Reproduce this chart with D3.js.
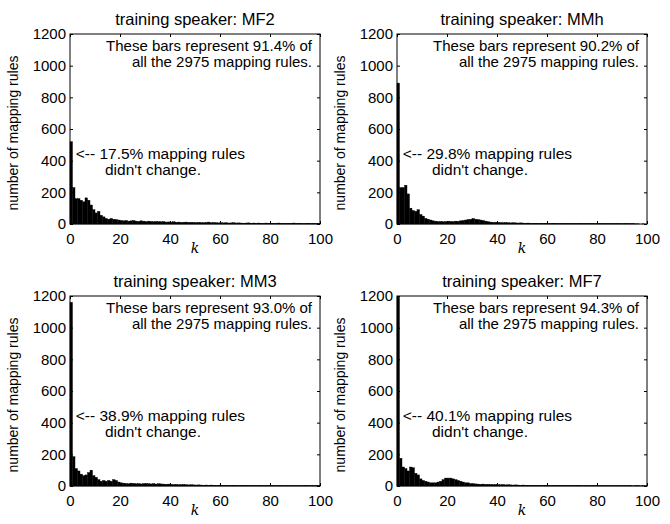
<!DOCTYPE html>
<html>
<head>
<meta charset="utf-8">
<script src="https://cdn.jsdelivr.net/npm/d3@7"></script>
<style>
body { margin: 0; background: white; }
text { font-family: "Liberation Sans", Arial, sans-serif; fill: black; }
</style>
</head>
<body>
<script>
// counts of mapping rules for each k (k = 0..99)
var mf2 = [520,230,160,160,150,140,165,150,120,90,
	70,80,55,45,35,30,35,30,28,25,
	22,20,22,18,20,22,18,16,20,18,
	15,18,16,14,16,15,14,15,12,13,
	12,14,11,12,10,11,12,10,11,10,
	9,10,9,8,10,12,8,9,8,7,
	8,7,8,6,7,8,6,7,6,5,
	6,7,5,6,5,6,5,4,6,5,
	5,4,5,6,4,5,4,5,4,6,
	4,5,4,3,4,5,3,4,3,5]

var mmh = [890,230,230,245,190,100,85,80,90,60,
	50,35,30,25,20,18,15,16,14,15,
	18,16,15,18,17,20,22,25,28,30,
	35,30,28,25,22,18,14,12,10,11,
	10,9,8,9,8,7,8,7,6,7,
	6,5,6,5,4,5,4,5,4,5,
	4,4,5,4,3,4,4,3,4,3,
	4,3,3,4,3,3,4,3,3,2,
	3,3,2,3,3,2,3,2,3,2,
	2,3,2,2,3,1,1,0,1,0]

var mm3 = [1160,185,110,95,75,65,70,85,100,65,
	55,40,30,35,30,35,30,40,35,25,
	20,18,15,14,18,16,14,15,13,15,
	16,14,13,15,12,14,13,12,11,12,
	10,9,10,8,9,10,8,7,8,7,
	6,7,6,5,6,5,6,5,4,5,
	5,4,5,4,4,5,4,3,4,4,
	3,4,3,4,3,3,4,3,3,4,
	3,3,2,3,3,2,3,3,2,3,
	2,3,2,3,4,2,3,2,3,2]

var mf7 = [1193,175,120,110,95,120,115,80,70,45,
	35,30,25,20,20,20,25,30,40,50,
	50,50,45,40,35,30,25,20,20,15,
	15,13,12,11,12,10,11,10,9,10,
	9,8,9,7,8,7,6,7,6,5,
	6,5,5,4,5,4,5,4,4,5,
	4,3,4,4,3,4,3,3,4,3,
	3,3,4,3,2,3,3,2,3,3,
	2,3,2,2,3,2,2,3,2,2,
	2,2,3,2,1,2,2,1,2,1]

var speakers = ["MF2", "MMh", "MM3", "MF7"]
var seriesList = [mf2, mmh, mm3, mf7]
var coveredPct = ["91.4", "90.2", "93.0", "94.3"]
var unchangedPct = ["17.5", "29.8", "38.9", "40.1"]
var totalRules = 2975
var xTicks = [0, 20, 40, 60, 80, 100]
var yTicks = [0, 200, 400, 600, 800, 1000, 1200]

var svg = d3.select("body").append("svg")
	.attr("width", 670).attr("height", 524)

var plotW = 250
var plotH = 190
var origins = [[70, 34], [397, 34], [70, 296], [397, 296]]

for (var i = 0; i < 4; i++) {
	drawPanel(svg, origins[i][0], origins[i][1], speakers[i], seriesList[i], coveredPct[i], unchangedPct[i])
}

function drawPanel(node, left, top, speaker, values, covered, unchanged) {
	var g = node.append("g").attr("transform", "translate(" + left + "," + top + ")")
	var x = d3.scaleLinear().domain([0, 100]).range([0, plotW])
	var y = d3.scaleLinear().domain([0, 1200]).range([plotH, 0])

	// bars, one per k
	g.selectAll("rect.bar").data(values).enter().append("rect")
		.attr("class", "bar")
		.attr("x", function(d, k) { return x(k) })
		.attr("width", x(1) - x(0))
		.attr("y", function(d) { return y(d) })
		.attr("height", function(d) { return plotH - y(d) })
		.attr("fill", "black")
		.attr("stroke", "black")
		.attr("stroke-width", 0.4)

	// matlab style axes: ticks inside, on every side
	var tickLen = 3
	g.append("g").attr("transform", "translate(0," + plotH + ")")
		.call(d3.axisBottom(x).tickValues(xTicks).tickSizeInner(-tickLen).tickSizeOuter(0).tickPadding(9).tickFormat(d3.format("d")))
	g.append("g")
		.call(d3.axisTop(x).tickValues(xTicks).tickSizeInner(-tickLen).tickSizeOuter(0).tickFormat(""))
	g.append("g")
		.call(d3.axisLeft(y).tickValues(yTicks).tickSizeInner(-tickLen).tickSizeOuter(0).tickPadding(4).tickFormat(d3.format("d")))
	g.append("g").attr("transform", "translate(" + plotW + ",0)")
		.call(d3.axisRight(y).tickValues(yTicks).tickSizeInner(-tickLen).tickSizeOuter(0).tickFormat(""))
	g.selectAll(".domain").remove()
	g.selectAll(".tick text").attr("font-size", 15).attr("font-family", null)
	g.selectAll(".tick line").attr("stroke", "black")

	g.append("rect").attr("width", plotW).attr("height", plotH)
		.attr("fill", "none").attr("stroke", "black").attr("stroke-width", 1)

	// title and labels
	g.append("text").text("training speaker: " + speaker)
		.attr("x", plotW / 2).attr("y", -9)
		.attr("text-anchor", "middle").attr("font-size", 16.5)
	g.append("text").text("k")
		.attr("x", plotW / 2).attr("y", plotH + 29)
		.attr("text-anchor", "middle").attr("font-size", 14)
		.style("font-family", "'DejaVu Serif', 'Liberation Serif', serif")
		.style("font-style", "italic")
	g.append("text").text("number of mapping rules")
		.attr("transform", "translate(-52," + (plotH / 2 + 4) + ") rotate(-90)")
		.attr("text-anchor", "middle").attr("font-size", 14)

	// annotations
	g.append("text").text("These bars represent " + covered + "% of")
		.attr("x", plotW - 8).attr("y", 17)
		.attr("text-anchor", "end").attr("font-size", 15)
	g.append("text").text("all the " + totalRules + " mapping rules.")
		.attr("x", plotW - 8).attr("y", 33)
		.attr("text-anchor", "end").attr("font-size", 15)
	g.append("text").text("<-- " + unchanged + "% mapping rules")
		.attr("x", x(2.3)).attr("y", y(440) + 5)
		.attr("font-size", 15.5)
	g.append("text").text("didn't change.")
		.attr("x", x(14)).attr("y", y(440) + 21)
		.attr("font-size", 15.5)
}
</script>
</body>
</html>
